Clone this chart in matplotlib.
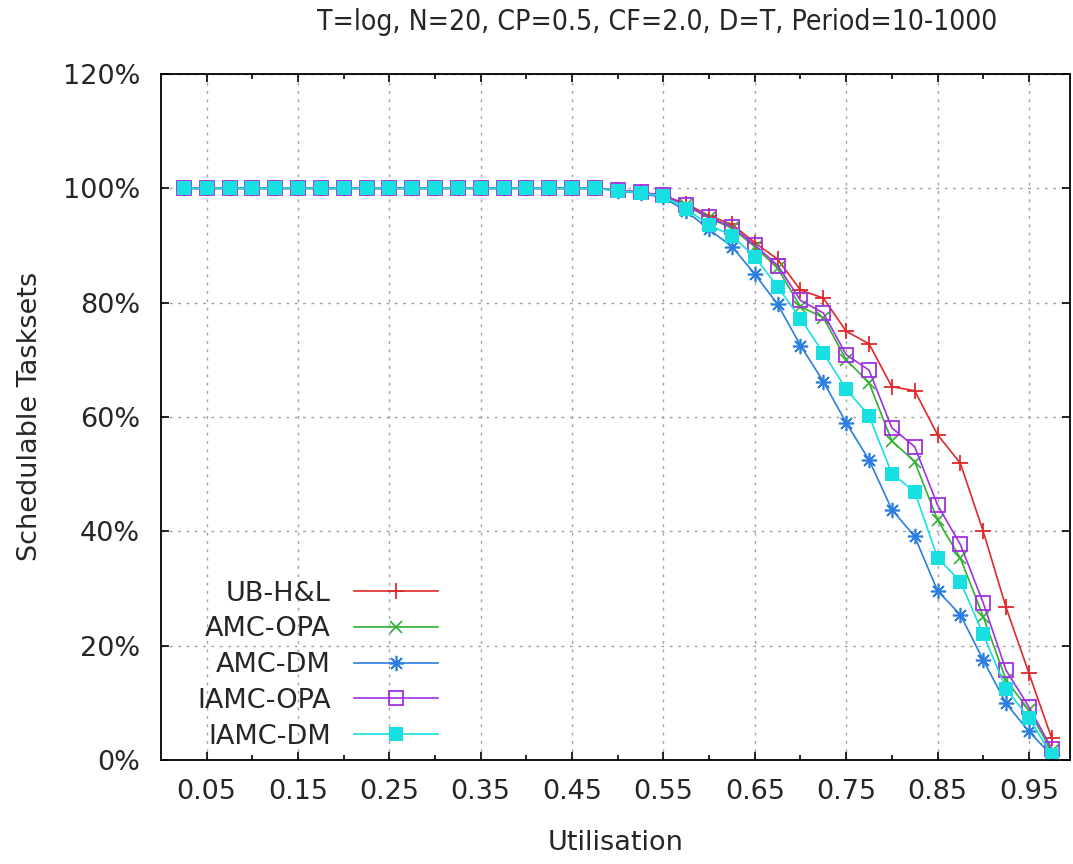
import matplotlib
matplotlib.use('Agg')
import matplotlib.pyplot as plt
from matplotlib.ticker import MultipleLocator, FixedLocator, FuncFormatter

# utilisation steps 0.025 .. 0.975
util = [round(0.025 * i, 3) for i in range(1, 40)]
flat = [100.0] * 19

ub_hl = flat + [99.7, 99.3, 98.7, 97.3, 95.2, 93.7, 90.5, 87.6, 82.2, 80.8,
                75.0, 72.8, 65.3, 64.6, 56.9, 51.9, 40.0, 26.7, 15.2, 3.8]
amc_opa = flat + [99.7, 99.3, 98.7, 97.0, 94.8, 93.0, 89.8, 86.0, 79.3, 77.4,
                  70.0, 66.0, 55.8, 52.2, 42.0, 35.3, 25.1, 14.0, 8.7, 1.5]
amc_dm = flat + [99.6, 99.1, 98.4, 96.0, 92.8, 89.8, 85.0, 79.7, 72.5, 66.2,
                 59.0, 52.5, 43.8, 39.1, 29.6, 25.4, 17.5, 9.9, 5.0, 0.8]
iamc_opa = flat + [99.7, 99.3, 98.8, 97.1, 94.9, 93.3, 90.1, 86.5, 80.4, 78.2,
                   70.9, 68.2, 58.1, 54.8, 44.6, 37.7, 27.5, 15.7, 9.3, 2.0]
iamc_dm = flat + [99.6, 99.2, 98.6, 96.4, 93.6, 91.7, 88.0, 82.8, 77.2, 71.2,
                  64.9, 60.2, 50.1, 46.9, 35.4, 31.2, 22.0, 12.5, 7.3, 0.9]

series = [
    ('UB-H&L', ub_hl, '#e02828', dict(marker='+', ms=12, mew=1.3)),
    ('AMC-OPA', amc_opa, '#30b030', dict(marker='x', ms=8.5, mew=1.2)),
    ('AMC-DM', amc_dm, '#2a7ee0', dict(marker=(8, 2, 0), ms=11, mew=1.2)),
    ('IAMC-OPA', iamc_opa, '#a030e0', dict(marker='s', ms=10, mfc='none', mew=1.3)),
    ('IAMC-DM', iamc_dm, '#18e0e0', dict(marker='s', ms=10, mew=0)),
]

txt = '#262626'
plt.rcParams['font.family'] = ['DejaVu Sans']

fig = plt.figure(figsize=(10.73, 8.64), dpi=100)
ax = fig.add_axes([161 / 1073, 1 - 760 / 864, 909 / 1073, 686 / 864])

for name, vals, col, mk in series:
    ax.plot(util, vals, color=col, lw=1.2, label=name, **mk)

ax.set_xlim(0, 0.995)
ax.set_ylim(0, 120)
ax.xaxis.set_major_locator(FixedLocator([0.05 + 0.1 * i for i in range(10)]))
ax.xaxis.set_minor_locator(FixedLocator([0.1 * i for i in range(1, 10)]))
ax.xaxis.set_major_formatter(FuncFormatter(lambda v, p: '%.2f' % v))
ax.yaxis.set_major_locator(MultipleLocator(20))
ax.yaxis.set_major_formatter(FuncFormatter(lambda v, p: '%d%%' % round(v)))

ax.tick_params(which='both', direction='in', top=True, right=True, colors='black',
               labelcolor=txt, labelsize=19.5)
ax.tick_params(which='major', length=6, width=1.2)
ax.tick_params(which='minor', length=3.5, width=1.2)
ax.tick_params(axis='x', pad=14)
ax.tick_params(axis='y', pad=15)
for s in ax.spines.values():
    s.set_linewidth(1.3)
ax.grid(True, which='major', color='#a0a0a0', lw=1.0, ls=(0, (2, 4)))

ax.set_xlabel('Utilisation', fontsize=19.5, color=txt)
ax.xaxis.set_label_coords(0.5, -0.121)
ax.xaxis.label.set_va('center')
ax.set_ylabel('Schedulable Tasksets', fontsize=19.5, color=txt)
ax.yaxis.set_label_coords(-0.144, 0.501)
ax.yaxis.label.set_va('center')

fig.text(657 / 1073, 1 - 22 / 864, 'T=log, N=20, CP=0.5, CF=2.0, D=T, Period=10-1000',
         ha='center', va='center', fontsize=20.3, color=txt, fontstretch='condensed')

# markerfirst=False puts the text on the left, right-aligned like gnuplot
leg = ax.legend(loc='lower left', bbox_to_anchor=(0.04, 0.015), frameon=False,
                markerfirst=False, fontsize=19.5, handlelength=3.1, handletextpad=0.85,
                labelspacing=0.36, borderpad=0, borderaxespad=0)
for t in leg.get_texts():
    t.set_color(txt)

fig.savefig('out.png', dpi=100)
